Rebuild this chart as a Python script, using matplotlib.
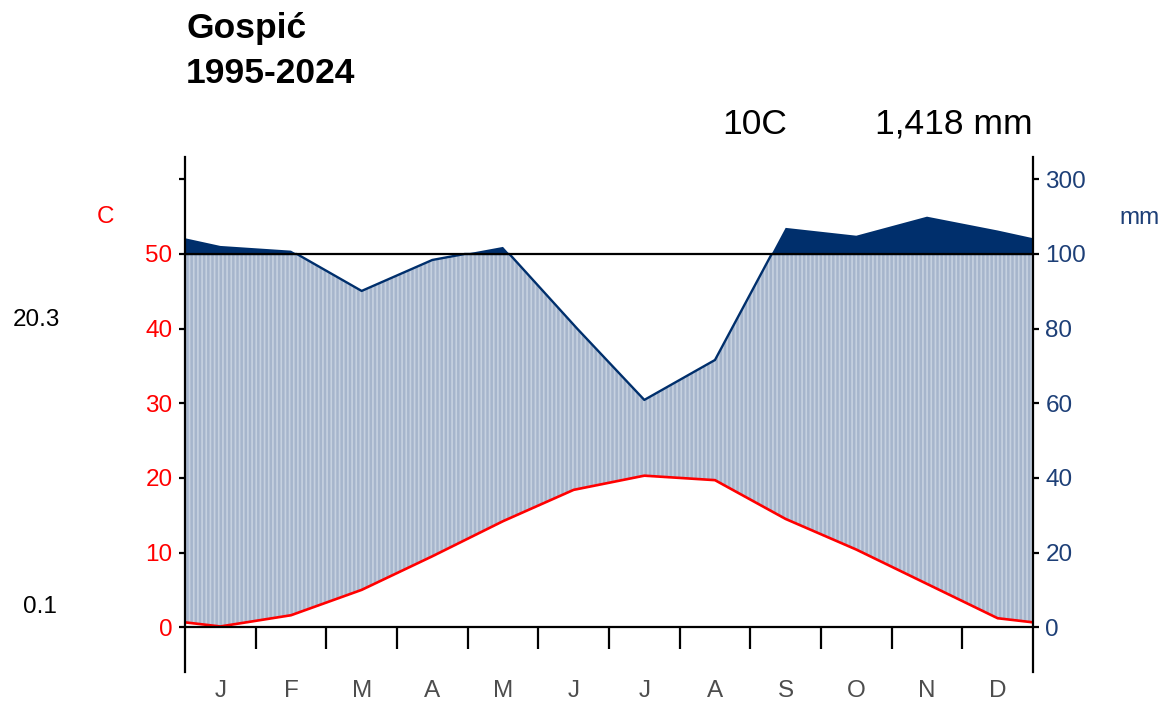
import numpy as np
import matplotlib.pyplot as plt

plt.rcParams['font.family'] = ['Liberation Sans', 'DejaVu Sans']
plt.rcParams['hatch.linewidth'] = 1.2

# Monthly climate normals, Gospić 1995-2024
months = ["J", "F", "M", "A", "M", "J", "J", "A", "S", "O", "N", "D"]
temp = [0.1, 1.6, 5.0, 9.5, 14.2, 18.4, 20.3, 19.7, 14.5, 10.4, 5.8, 1.2]
precip = [121.6, 109, 90.1, 98.4, 119, 81, 60.9, 71.6, 170, 149, 200, 163]
station = "Gospić"
period = "1995-2024"
mean_temp_label = "10C"
total_precip_label = "1,418 mm"
max_label = "20.3"
min_label = "0.1"

temp_col = "#FF0000"
prec_col = "#002F6C"
axis_col = "#1D3F77"


def scale_precip(p):
    # 1 C = 2 mm up to 100 mm, then 1 C = 20 mm
    p = np.asarray(p, dtype=float)
    return np.where(p <= 100, p / 2, 50 + (p - 100) / 20)


# wrap the year so the lines reach the plot edges
x = np.concatenate([[0], np.arange(12) + 0.5, [12]])
t = np.concatenate([[(temp[-1] + temp[0]) / 2], temp, [(temp[-1] + temp[0]) / 2]])
p = np.concatenate([[(precip[-1] + precip[0]) / 2], precip, [(precip[-1] + precip[0]) / 2]])
ps = scale_precip(p)

# fine grid for the fills
xf = np.linspace(0, 12, 1201)
tf = np.interp(xf, x, t)
psf = np.interp(xf, x, ps)

fig = plt.figure(figsize=(11.7, 7.01), dpi=100)
ax = fig.add_axes([0.1581, 0.0414, 0.7248, 0.7347])

# humid period: light striped fill
ax.fill_between(xf, tf, np.minimum(psf, 50), where=psf > tf,
                facecolor="#A6B5CC", edgecolor="#C6D1E0", hatch="||||", linewidth=0)
# very wet (> 100 mm): solid fill
ax.fill_between(xf, 50, psf, where=psf > 50, facecolor=prec_col, linewidth=0)

ax.plot(xf, np.minimum(psf, 50), color=prec_col, lw=1.7)
ax.plot(x, t, color=temp_col, lw=1.9)

ax.axhline(50, color="black", lw=1.6)
ax.axhline(0, color="black", lw=1.6)
ax.vlines(np.arange(1, 12), -2.9, 0, color="black", lw=1.6)

ax.set_xlim(0, 12)
ax.set_ylim(-6, 63)
for s in ["top", "bottom"]:
    ax.spines[s].set_visible(False)
for s in ["left", "right"]:
    ax.spines[s].set_linewidth(1.6)

ax.set_xticks(np.arange(12) + 0.5)
ax.set_xticklabels(months, fontsize=17.5, color="#4D4D4D")
ax.tick_params(axis="x", length=0, pad=5.5)

ax.set_yticks([0, 10, 20, 30, 40, 50, 60])
ax.set_yticklabels(["0", "10", "20", "30", "40", "50", ""], fontsize=17.5, color=temp_col)
ax.tick_params(axis="y", length=4, width=1.6, pad=5)

ax2 = ax.twinx()
ax2.set_ylim(ax.get_ylim())
ax2.set_yticks([0, 10, 20, 30, 40, 50, 60])
ax2.set_yticklabels(["0", "20", "40", "60", "80", "100", "300"], fontsize=17.5, color=axis_col)
ax2.tick_params(axis="y", length=4, width=1.6, pad=5)
for s in ["top", "bottom", "left", "right"]:
    ax2.spines[s].set_visible(False)

fig.text(186 / 1170, 1 - 38 / 701, station, fontsize=25.5, fontweight="bold", ha="left", va="baseline")
fig.text(186 / 1170, 1 - 83 / 701, period, fontsize=25.5, fontweight="bold", ha="left", va="baseline")
fig.text(755 / 1170, 1 - 134 / 701, mean_temp_label, fontsize=25.5, ha="center", va="baseline")
fig.text(1033 / 1170, 1 - 134 / 701, total_precip_label, fontsize=25.5, ha="right", va="baseline")
fig.text(105 / 1170, 1 - 217 / 701, "C", fontsize=17.5, color=temp_col, ha="center", va="center")
fig.text(1140 / 1170, 1 - 218 / 701, "mm", fontsize=17.5, color=axis_col, ha="center", va="center")
fig.text(36 / 1170, 1 - 320 / 701, max_label, fontsize=17.5, ha="center", va="center")
fig.text(40 / 1170, 1 - 607 / 701, min_label, fontsize=17.5, ha="center", va="center")

fig.savefig("out.png", dpi=100)
